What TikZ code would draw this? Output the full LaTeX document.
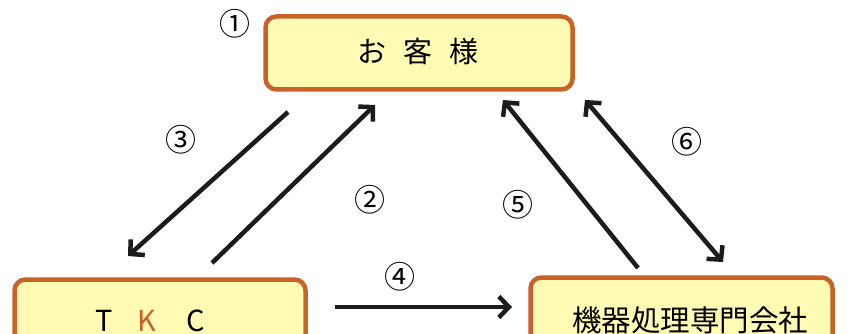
\documentclass[tikz,border=0pt]{standalone}
\usepackage{fontspec}
\setmainfont{Noto Sans CJK JP}
\usetikzlibrary{arrows.meta}
\definecolor{boxedge}{RGB}{200,98,40}
\definecolor{boxfill}{RGB}{255,251,180}
\definecolor{arrowink}{RGB}{28,28,28}
\tikzset{
  party/.style={draw=boxedge, fill=boxfill, line width=4.5pt, rounded corners=11pt, inner sep=0pt},
  partytext/.style={font=\fontsize{29}{29}\selectfont, inner sep=0pt},
  flow/.style={draw=arrowink, line width=4.5pt, -{Straight Barb[length=10pt,width=21pt]}},
  stepno/.style={font=\fontsize{31}{31}\selectfont, inner sep=0pt},
}
\begin{document}
\begin{tikzpicture}[x=1pt, y=-1pt]
\useasboundingbox (0,0) rectangle (848,334);
\clip (0,0) rectangle (848,334);
% The three parties.
\node[party, minimum width=307pt, minimum height=73pt] (kyaku) at (419,53) {};
\node[party, minimum width=291pt, minimum height=90pt] (tkc) at (160,324.5) {};
\node[party, minimum width=302pt, minimum height=90pt] (kiki) at (681.5,322.5) {};
\node[partytext] (kyakutext) at (418,51.5) {お\hspace{17pt}客\hspace{17pt}様};
\node[partytext, anchor=base] (tkctext) at (150,331)
  {T\hspace{25pt}\textcolor{boxedge}{K}\hspace{30pt}C};
\node[partytext, anchor=base] (kikitext) at (690,331) {\fontsize{29.5}{29.5}\selectfont 機器処理専門会社};
% Ends of the flows.
\coordinate (s3) at (288,112);
\coordinate (e3) at (128,256);
\coordinate (s2) at (212,263);
\coordinate (e2) at (375,105);
\coordinate (s4) at (335,307);
\coordinate (e4) at (512,307);
\coordinate (s5) at (638,268);
\coordinate (e5) at (503,100);
\coordinate (s6) at (585,100);
\coordinate (e6) at (723,262);
% The flows.
\draw[flow] (s3) -- (e3);
\draw[flow] (s2) -- (e2);
\draw[flow] (s4) -- (e4);
\draw[flow] (s5) -- (e5);
\draw[flow, {Straight Barb[length=10pt,width=21pt]}-{Straight Barb[length=10pt,width=21pt]}] (s6) -- (e6);
% Step numbers.
\node[stepno] (n1) at (235,24) {①};
\node[stepno] (n2) at (370,200) {②};
\node[stepno] (n3) at (181,140) {③};
\node[stepno] (n4) at (400,277) {④};
\node[stepno] (n5) at (518,205) {⑤};
\node[stepno] (n6) at (687,142) {⑥};
\end{tikzpicture}
\end{document}
